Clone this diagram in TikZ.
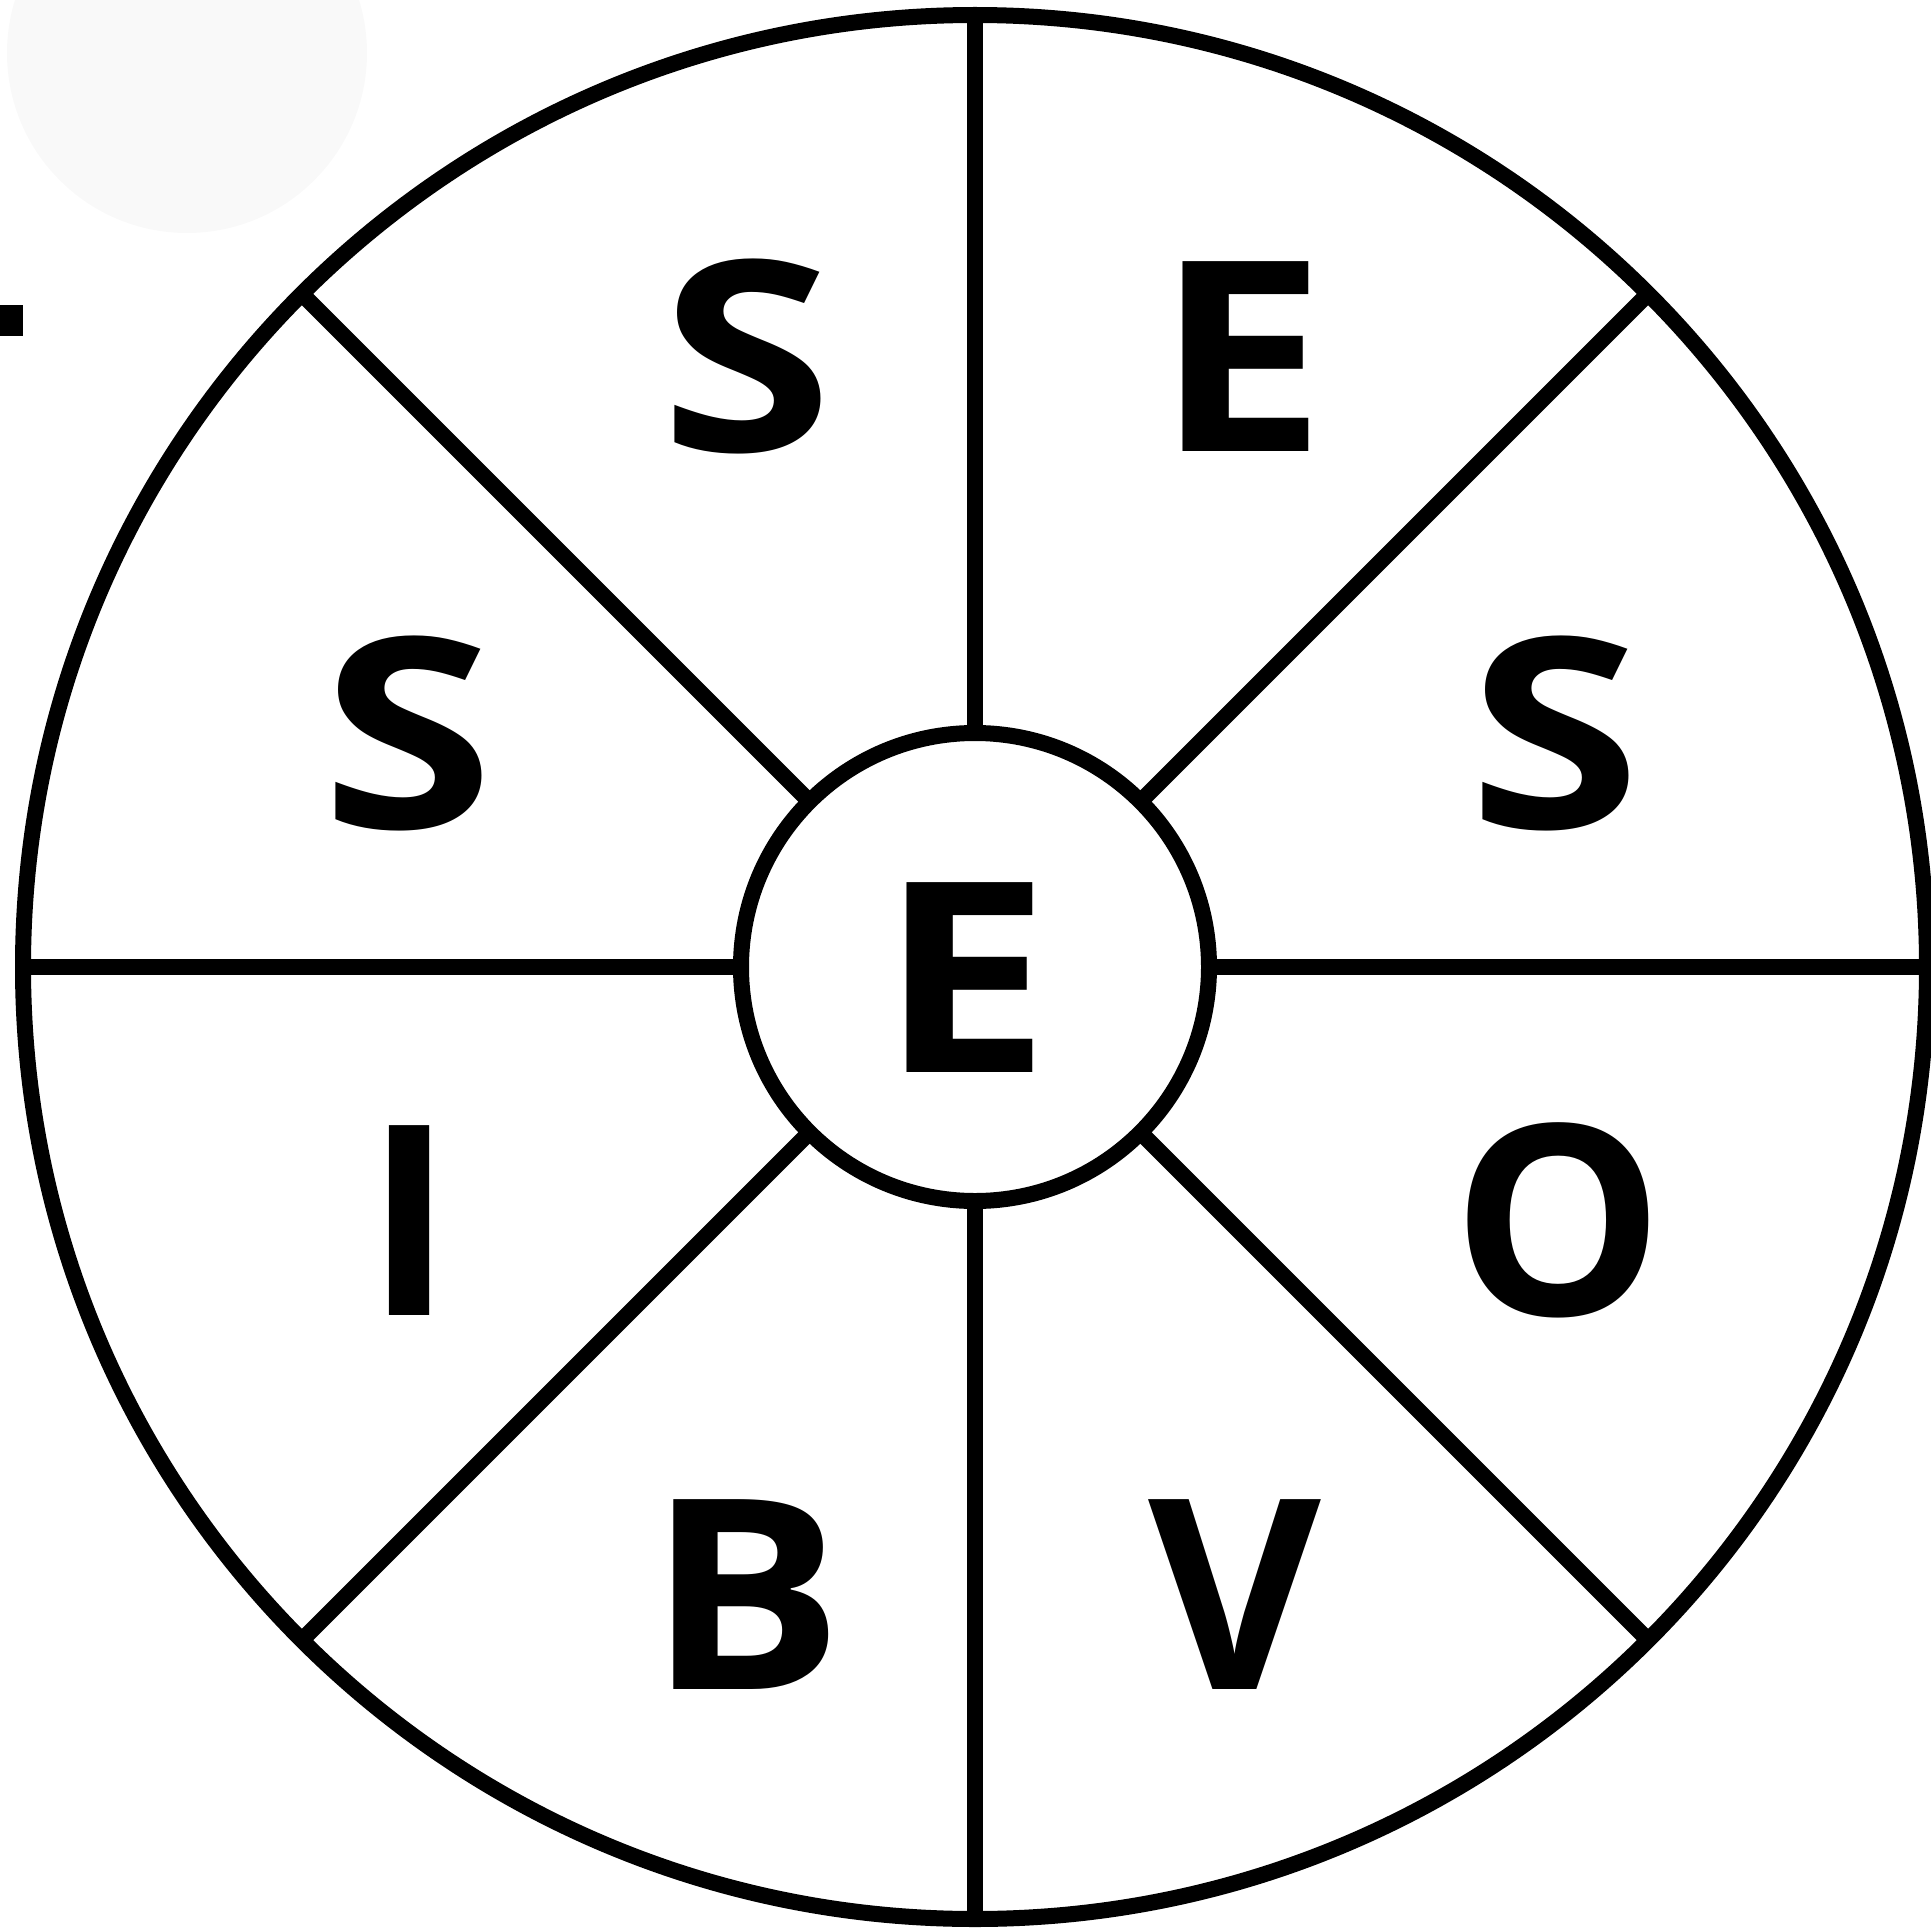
\documentclass[tikz,border=0pt]{standalone}
\usepackage{graphicx}
\usepackage{fontspec}
\setmainfont{Open Sans}[UprightFont=* Bold]
\definecolor{faint}{RGB}{249,249,249}
\pgfdeclarelayer{back}
\pgfsetlayers{back,main}
\newcommand{\wideS}{\scalebox{1.18}[1]{S}}
\newcommand{\wideE}{\scalebox{1.15}[1]{E}}
\newcommand{\wideB}{\scalebox{1.1}[1]{B}}
\begin{document}
\begin{tikzpicture}[x=1pt,y=-1pt,
  ring/.style={circle,draw=black,line width=16pt,outer sep=0pt,inner sep=0pt},
  spoke/.style={draw=black,line width=16pt},
  letter/.style={inner sep=0pt,outer sep=0pt,text height=190pt,text depth=0pt,font=\fontsize{266}{266}\selectfont}]
\useasboundingbox (0,0) rectangle (1931,1929);
\node[circle,fill=faint,minimum size=360pt,inner sep=0pt] (blob) at (187,53) {};
\node[fill=black,minimum width=23pt,minimum height=31pt,inner sep=0pt,anchor=north west] (mark) at (0,305) {};
\node[ring,minimum size=1904pt] (outer) at (975,967) {};
\node[ring,minimum size=468pt] (inner) at (975,967) {};
\begin{pgfonlayer}{back}
\foreach \a in {0,45,...,315}{
  \draw[spoke] (inner.\a) -- (outer.\a);
}
\end{pgfonlayer}
\node[letter] (l1) at (747,356) {\wideS};
\node[letter] (l2) at (1241,356) {\wideE};
\node[letter] (l3) at (408,733) {\wideS};
\node[letter] (l4) at (1555,733) {\wideS};
\node[letter] (l5) at (965,977) {\wideE};
\node[letter] (l6) at (410,1220) {I};
\node[letter] (l7) at (1558,1220) {O};
\node[letter] (l8) at (746,1594) {\wideB};
\node[letter] (l9) at (1235,1594) {V};
\end{tikzpicture}
\end{document}
